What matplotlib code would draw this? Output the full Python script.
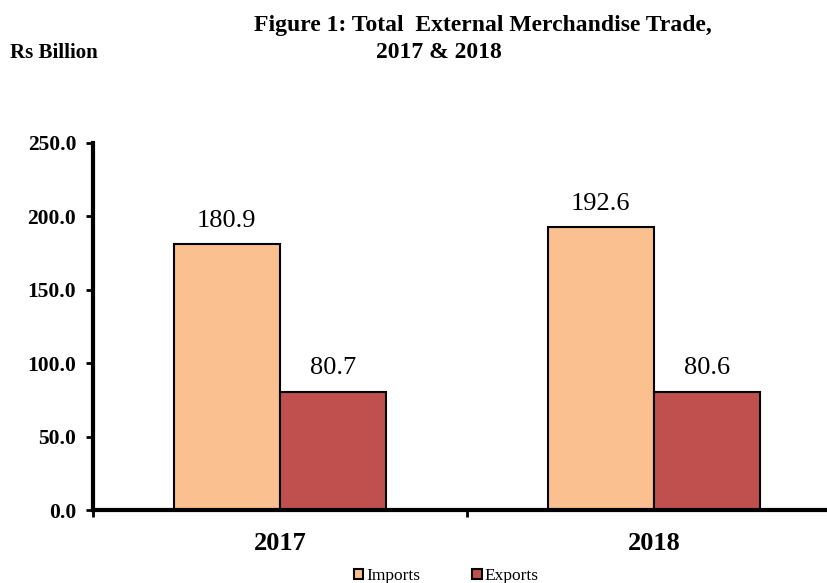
import numpy as np
import matplotlib.pyplot as plt
from matplotlib.patches import Patch

years = ['2017', '2018']
imports = [180.9, 192.6]
exports = [80.7, 80.6]
y_ticks = [0, 50, 100, 150, 200, 250]

plt.rcParams['font.family'] = ['Liberation Serif', 'DejaVu Serif']

fig = plt.figure(figsize=(8.27, 5.83), dpi=100)
ax = fig.add_axes([93/827, 1 - 510/583, 748/827, 367/583])

x = np.arange(len(years))
w = 0.284
b1 = ax.bar(x - w/2, imports, w, color='#FAC090', edgecolor='black', linewidth=1.5)
b2 = ax.bar(x + w/2, exports, w, color='#C0504D', edgecolor='black', linewidth=1.5)

for bars, vals in ((b1, imports), (b2, exports)):
    for rect, v in zip(bars, vals):
        ax.annotate(f'{v:.1f}', (rect.get_x() + rect.get_width()/2, v),
                    xytext=(0, 9), textcoords='offset points',
                    ha='center', va='bottom', fontsize=19)

ax.set_xlim(-0.5, 1.5)
ax.set_ylim(0, 250)
ax.set_yticks(y_ticks)
ax.set_yticklabels([f'{t:.1f}' for t in y_ticks], fontsize=15.5, fontweight='bold')
ax.tick_params(axis='y', direction='out', length=5, width=2, pad=7)

ax.set_xticks([-0.5, 0.5, 1.5])
ax.set_xticklabels([])
ax.set_xticks(x, minor=True)
ax.set_xticklabels(years, minor=True, fontsize=19, fontweight='bold')
ax.tick_params(axis='x', which='major', direction='out', length=5, width=2)
ax.tick_params(axis='x', which='minor', length=0, pad=16)

for s in ('top', 'right'):
    ax.spines[s].set_visible(False)
for s in ('left', 'bottom'):
    ax.spines[s].set_linewidth(3)

fig.text(483/827, 1 - 26/583, 'Figure 1: Total  External Merchandise Trade,',
         ha='center', va='center', fontsize=17, fontweight='bold')
fig.text(439/827, 1 - 53/583, '2017 & 2018',
         ha='center', va='center', fontsize=17, fontweight='bold')
fig.text(10/827, 1 - 53/583, 'Rs Billion', ha='left', va='center',
         fontsize=15, fontweight='bold')

handles = [Patch(facecolor='#FAC090', edgecolor='black', linewidth=1.5, label='Imports'),
           Patch(facecolor='#C0504D', edgecolor='black', linewidth=1.5, label='Exports')]
fig.legend(handles=handles, loc='center', bbox_to_anchor=(446/827, 1 - 576/583),
           ncol=2, frameon=False, fontsize=12.5, handlelength=0.55, handleheight=0.55,
           handletextpad=0.15, columnspacing=3.0, borderpad=0)

fig.savefig('out.png', dpi=100)
